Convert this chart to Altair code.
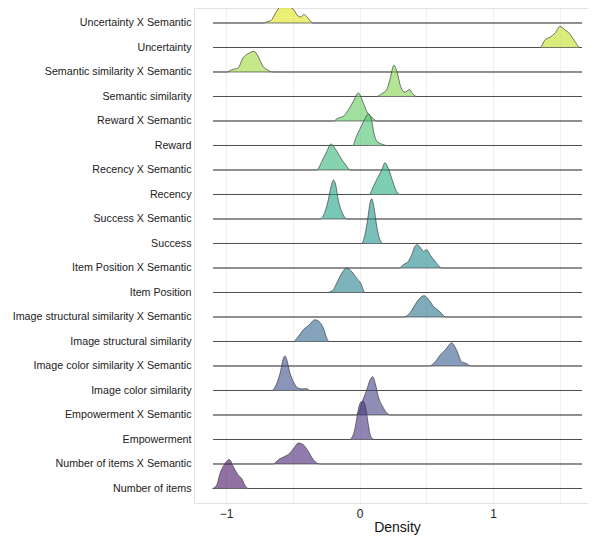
import json
import altair as alt
import pandas as pd

# Ridge rows, bottom (index 0) to top (index 19)
NAMES = [
    "Number of items",
    "Number of items X Semantic",
    "Empowerment",
    "Empowerment X Semantic",
    "Image color similarity",
    "Image color similarity X Semantic",
    "Image structural similarity",
    "Image structural similarity X Semantic",
    "Item Position",
    "Item Position X Semantic",
    "Success",
    "Success X Semantic",
    "Recency",
    "Recency X Semantic",
    "Reward",
    "Reward X Semantic",
    "Semantic similarity",
    "Semantic similarity X Semantic",
    "Uncertainty",
    "Uncertainty X Semantic",
]

# x positions of density readings for each ridge
RIDGE_X = [
    [-1.100, -1.070, -1.045, -1.007, -0.975, -0.945, -0.908, -0.883, -0.858, -0.833],
    [-0.646, -0.608, -0.558, -0.521, -0.491, -0.458, -0.421, -0.384, -0.346, -0.296],
    [-0.076, -0.046, -0.026, -0.009, 0.009, 0.028, 0.049, 0.066, 0.084, 0.109],
    [-0.034, -0.009, 0.016, 0.054, 0.079, 0.099, 0.121, 0.141, 0.174, 0.204, 0.228],
    [-0.658, -0.620, -0.590, -0.573, -0.558, -0.543, -0.526, -0.496, -0.458, -0.423, -0.401, -0.371],
    [0.523, 0.566, 0.603, 0.640, 0.691, 0.728, 0.766, 0.798, 0.833],
    [-0.496, -0.458, -0.421, -0.384, -0.333, -0.296, -0.266, -0.246, -0.226],
    [0.328, 0.378, 0.416, 0.453, 0.483, 0.515, 0.553, 0.598, 0.648],
    [-0.246, -0.201, -0.171, -0.133, -0.096, -0.058, -0.021, 0.009, 0.041],
    [0.298, 0.328, 0.366, 0.391, 0.416, 0.433, 0.458, 0.478, 0.503, 0.528, 0.566, 0.616],
    [0.016, 0.041, 0.061, 0.079, 0.091, 0.109, 0.129, 0.148, 0.174],
    [-0.296, -0.258, -0.234, -0.213, -0.196, -0.178, -0.159, -0.133, -0.091],
    [0.073, 0.103, 0.133, 0.166, 0.191, 0.216, 0.246, 0.273, 0.298],
    [-0.321, -0.283, -0.246, -0.213, -0.184, -0.146, -0.109, -0.064],
    [-0.051, -0.026, 0.004, 0.034, 0.066, 0.091, 0.104, 0.129, 0.166, 0.204],
    [-0.196, -0.159, -0.121, -0.084, -0.046, -0.009, 0.024, 0.054, 0.091, 0.129],
    [0.129, 0.166, 0.204, 0.228, 0.258, 0.283, 0.309, 0.341, 0.373, 0.399, 0.428],
    [-0.995, -0.957, -0.910, -0.873, -0.835, -0.790, -0.760, -0.723, -0.685, -0.648],
    [1.352, 1.390, 1.427, 1.464, 1.502, 1.539, 1.577, 1.614, 1.652],
    [-0.723, -0.685, -0.663, -0.633, -0.610, -0.588, -0.551, -0.521, -0.491, -0.461,
     -0.438, -0.416, -0.393, -0.371, -0.348],
]

# density readings (scaled) for each ridge
RIDGE_D = [
    [0, 3.3, 15, 25, 29, 21.7, 13.3, 10, 3.3, 0],
    [0, 4.3, 7.7, 11, 16, 21, 19.3, 12.7, 4.3, 0],
    [0, 5, 16.7, 30, 37.3, 38.3, 30, 15, 3.3, 0],
    [0, 1.7, 11.7, 25, 35, 38.3, 30, 18.3, 8.3, 2.3, 0],
    [0, 7, 20, 31, 34.5, 30, 20, 9, 2.3, 1.5, 2, 0],
    [0, 4, 10.7, 15.7, 23, 15.7, 4, 2.7, 0],
    [0, 5, 11.7, 15.7, 21.7, 19, 11.7, 3.3, 0],
    [0, 4, 12.3, 19, 21.3, 18, 10.7, 5.7, 0],
    [0, 2, 9.3, 19.3, 24.3, 21, 14.3, 9.3, 0],
    [0, 3.3, 6.7, 13.3, 21.7, 23.3, 20, 16.7, 18.3, 13.3, 6.7, 0],
    [0, 9, 24, 40.7, 44.7, 35.7, 17.3, 5.7, 0],
    [0, 7.3, 19, 32.3, 39, 34, 19, 7.3, 0],
    [0, 7.7, 16, 24.3, 31.7, 26, 14.3, 4.3, 0],
    [0, 8.3, 18.3, 26, 21.7, 13.3, 6, 0],
    [0, 8.3, 16.7, 25, 31.5, 25, 15, 4.5, 1.5, 0],
    [0, 3, 4.7, 11, 19.7, 28, 19.7, 9.7, 4, 0],
    [0, 2.7, 7, 17, 31.3, 23.7, 9.7, 4.3, 7, 2.7, 0],
    [0, 2.3, 4, 14, 18.3, 20.7, 15.7, 5.7, 1.7, 0],
    [0, 7.7, 10.3, 14.3, 21, 17.7, 13.3, 6, 0],
    [0, 1.5, 2.5, 9, 14, 16.5, 17.3, 16, 13, 7, 6, 8.5, 6, 2.5, 0],
]

X_RANGE = [-1.097, 1.667]      # range over which densities were evaluated
X_TICKS = [-1, -0.5, 0, 0.5, 1, 1.5]

RIDGE_SCALE = 1 / 24.5          # ridge height scale (rows per density unit)
X_DOMAIN = [-1.2397, 1.7116]
Y_TOP = 19.612
Y_DOMAIN = [-0.592, Y_TOP]
FONT = "Liberation Sans"

rows = []
for i, (xs, ds) in enumerate(zip(RIDGE_X, RIDGE_D)):
    pts = list(zip(xs, ds))
    if xs[0] > X_RANGE[0]:
        pts = [(X_RANGE[0], 0)] + pts
    if xs[-1] < X_RANGE[1]:
        pts = pts + [(X_RANGE[1], 0)]
    for x, d in pts:
        rows.append({"name": NAMES[i], "idx": i, "x": x,
                     "top": i + d * RIDGE_SCALE, "base": i})
df = pd.DataFrame(rows)

label_expr = ("datum.value > 19.5 ? '' : " + json.dumps(NAMES) +
              "[round(datum.value)]")

x_axis = alt.Axis(
    values=X_TICKS,
    labelExpr="datum.value % 1 == 0 ? format(datum.value, 'd') : ''",
    grid=True, gridColor="#ebebeb", gridWidth=0.8,
    ticks=False, tickSize=0,
    domainColor="#e3e3e3",
    labelFont=FONT, labelFontSize=12, labelColor="#222222", labelPadding=5,
    title="Density", titleFont=FONT, titleFontSize=14, titleFontWeight="normal",
    titleColor="#111111", titleX=203, titleY=28, titleBaseline="alphabetic",
    titleAlign="center",
)

y_axis = alt.Axis(
    values=list(range(len(NAMES))) + [Y_TOP],
    labelExpr=label_expr,
    grid=True,
    gridColor={"condition": {"test": "datum.value > 19.5", "value": "#e3e3e3"},
               "value": "transparent"},
    ticks=False, tickSize=0,
    domainColor="#e3e3e3",
    labelFont=FONT, labelFontSize=10.7, labelColor="#222222", labelPadding=3,
    title=None,
)

base = alt.Chart(df).mark_area(
    interpolate="monotone", fillOpacity=0.6,
    stroke="#3d3d3d", strokeWidth=0.7, strokeOpacity=1,
).encode(
    x=alt.X("x:Q", scale=alt.Scale(domain=X_DOMAIN, nice=False, zero=False), axis=x_axis),
    y=alt.Y("top:Q", scale=alt.Scale(domain=Y_DOMAIN, nice=False, zero=False), axis=y_axis),
    y2="base:Q",
    color=alt.Color("idx:O", scale=alt.Scale(scheme="viridis", domain=list(range(len(NAMES)))),
                    legend=None),
)

layers = [base.transform_filter(f"datum.idx == {i}") for i in range(len(NAMES) - 1, -1, -1)]

chart = alt.layer(*layers).properties(
    width=394, height=495,
    padding={"left": 186, "top": 0, "right": 0, "bottom": 35},
    autosize=alt.AutoSizeParams(type="none"),
).configure_view(stroke="transparent")

chart.save("out.html", embed_options={"renderer": "svg", "actions": False})
